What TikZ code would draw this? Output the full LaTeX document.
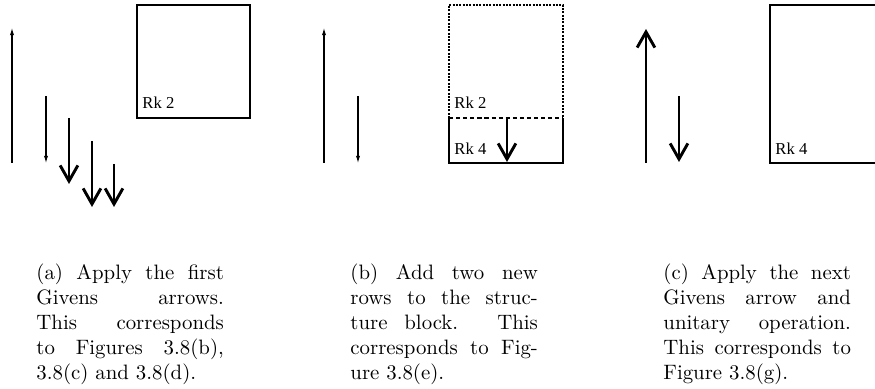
\documentclass[tikz,border=0pt]{standalone}
\usepackage{fontspec}
\newfontfamily\rkfont{Liberation Serif}
\usetikzlibrary{arrows.meta}
\tikzset{
  thin arrow/.style={line width=0.5pt,-{Latex[length=3.4pt,width=2pt]}},
  thick arrow/.style={line width=1.4pt,-{Straight Barb[length=7.5pt,width=8.5pt]}},
  rk/.style={anchor=base west,inner sep=0pt,font=\rkfont\fontsize{8}{9.6}\selectfont},
  caption/.style={anchor=base west,inner sep=0pt,text width=90pt,align=justify,font=\fontsize{10}{12}\selectfont}
}
\begin{document}
\begin{tikzpicture}[x=0.48pt,y=-0.48pt]
        \useasboundingbox (0,0) rectangle (875,389);
        \foreach \x in {0,312} {
          \draw[thin arrow] (12+\x,163) -- (12+\x,28);
          \draw[thin arrow] (46+\x,96) -- (46+\x,163);
        }
        \foreach \x/\a/\b in {69/118/184,92/141/207,114/164/207} \draw[thick arrow] (\x,\a) -- (\x,\b);
        \draw[line width=0.5pt] (137,5) rectangle (250,118);
        \node[rk] (rka) at (142,109) {Rk 2};
        \draw[line width=0.5pt,dash pattern=on 1pt off 0.6pt] (449,118) -- (449,5) -- (563,5) -- (563,118);
        \draw[line width=0.5pt] (449,118) -- (449,163) -- (563,163) -- (563,118);
        \draw[line width=0.5pt,dash pattern=on 2pt off 1.4pt] (449,118) -- (563,118);
        \node[rk] (rkb2) at (454,109) {Rk 2};
        \node[rk] (rkb4) at (454,155) {Rk 4};
        \draw[thick arrow] (507,118) -- (507,162);
        \draw[thick arrow] (646,163) -- (646,29);
        \draw[thick arrow] (679,96) -- (679,162);
        \draw[line width=0.5pt] (880,5) -- (770,5) -- (770,163) -- (880,163);
        \node[rk] (rkc) at (775,155) {Rk 4};
        \node[caption] (capa) at (36,280) {(a) Apply the first\linebreak Givens arrows.\linebreak This corresponds\linebreak to Figures 3.8(b),\linebreak 3.8(c) and 3.8(d).};
        \node[caption] (capb) at (350,280) {(b) Add two new\linebreak rows to the struc-\linebreak ture block. This\linebreak corresponds to Fig-\linebreak ure 3.8(e).};
        \node[caption] (capc) at (663,280) {(c) Apply the next\linebreak Givens arrow and\linebreak unitary operation.\linebreak This corresponds to\linebreak Figure 3.8(g).};
      \end{tikzpicture}
\end{document}
